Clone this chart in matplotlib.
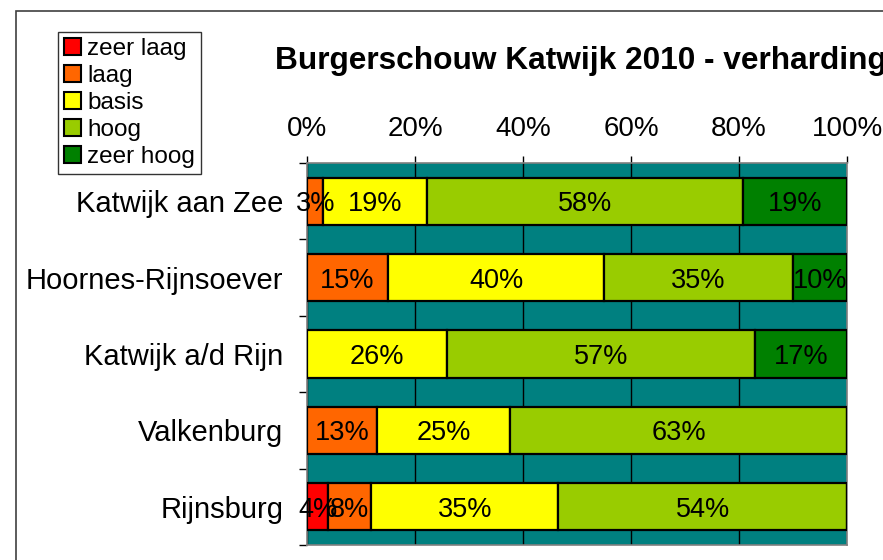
#!/usr/bin/env python
# -*- coding: utf-8 -*-
"""
Burgerschouw Katwijk 2010 - verharding, 100% stacked bars
"""

import numpy as np
import matplotlib
matplotlib.use("Agg")
import matplotlib.pyplot as plt
from matplotlib.patches import Patch, Rectangle

plt.rcParams['font.family'] = ['Liberation Sans', 'DejaVu Sans']

wijken = ["Katwijk aan Zee", "Hoornes-Rijnsoever", "Katwijk a/d Rijn",
          "Valkenburg", "Rijnsburg"]
klassen = ["zeer laag", "laag", "basis", "hoog", "zeer hoog"]
kleuren = ["#FF0000", "#FF6600", "#FFFF00", "#99CC00", "#008000"]

zeer_laag = [0, 0, 0, 0, 4]
laag = [3, 15, 0, 13, 8]
basis = [19, 40, 26, 25, 35]
hoog = [58, 35, 57, 63, 54]
zeer_hoog = [19, 10, 17, 0, 0]

data = np.array([zeer_laag, laag, basis, hoog, zeer_hoog], dtype=float)
aandeel = data / data.sum(axis=0) * 100   # 100% stacked

fig = plt.figure(figsize=(8.83, 5.6), dpi=100)
ax = fig.add_axes([307/883, 1 - 545/560, 540/883, 382/560])
ax.set_facecolor("#008080")

y = np.arange(len(wijken))
links = np.zeros(len(wijken))
for i in range(len(klassen)):
    ax.barh(y, aandeel[i], left=links, height=0.62, color=kleuren[i],
            edgecolor="black", linewidth=1.6, zorder=3)
    for j in range(len(wijken)):
        if data[i, j] > 0:
            ax.text(links[j] + aandeel[i, j] / 2, y[j], "%d%%" % data[i, j],
                    ha="center", va="center_baseline", fontsize=19.5, zorder=4)
    links += aandeel[i]

ax.set_xlim(0, 100)
ax.set_ylim(len(wijken) - 0.5, -0.5)

ax.xaxis.tick_top()
ax.set_xticks([0, 20, 40, 60, 80, 100])
ax.set_xticklabels(["0%", "20%", "40%", "60%", "80%", "100%"], fontsize=20)
ax.tick_params(axis="x", direction="out", length=5, width=1, pad=10)
ax.grid(axis="x", color="black", linewidth=1, zorder=1)

ax.set_yticks(y)
ax.set_yticklabels(wijken, fontsize=21)
ax.tick_params(axis="y", length=0, pad=17)
ax.set_yticks(np.arange(len(wijken) + 1) - 0.5, minor=True)
ax.tick_params(axis="y", which="minor", length=6, width=1, direction="out")

for s in ax.spines.values():
    s.set_color("#808080")
    s.set_linewidth(1.2)

fig.text(275/883, 1 - 61/560, "Burgerschouw Katwijk 2010 - verharding",
         fontsize=22.8, fontweight="bold", ha="left", va="center")

handles = [Patch(facecolor=k, edgecolor="black", linewidth=1.5) for k in kleuren]
leg = fig.legend(handles, klassen, loc="upper left",
                 bbox_to_anchor=(58/883, 1 - 32/560), borderaxespad=0,
                 fontsize=17.5, frameon=True, fancybox=False, edgecolor="black",
                 handlelength=0.7, handleheight=0.7, handletextpad=0.25,
                 labelspacing=0.2, borderpad=0.25)
leg.get_frame().set_linewidth(1)

fig.patches.append(Rectangle((15.5/883, -0.1), 1.2, 1.1 - 11/560,
                             transform=fig.transFigure, fill=False,
                             edgecolor="#404040", linewidth=1.2))

plt.savefig("out.png", dpi=100)
